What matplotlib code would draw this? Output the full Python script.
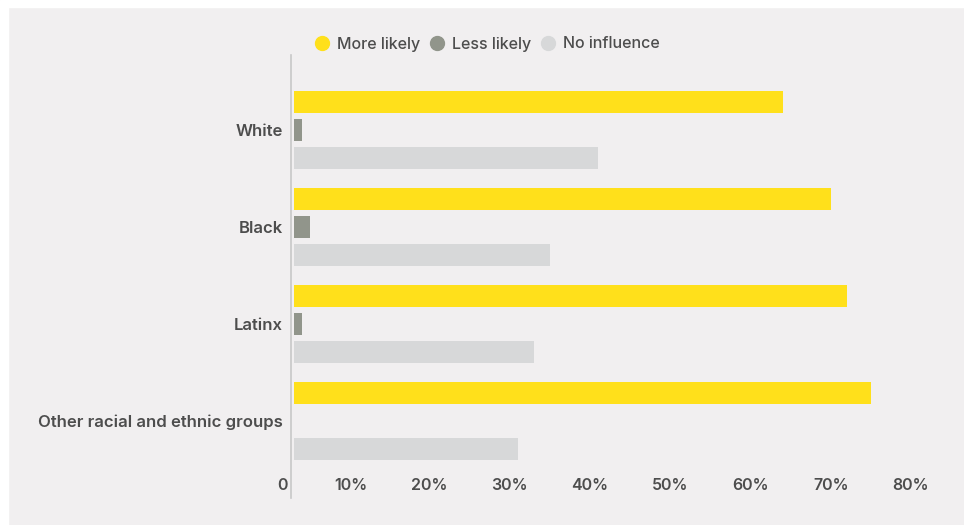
import matplotlib.pyplot as plt
import matplotlib.transforms as mtransforms
from matplotlib.lines import Line2D
from matplotlib.patches import Rectangle
import numpy as np

categories = ['White', 'Black', 'Latinx', 'Other racial and ethnic groups']
more_likely = [61, 67, 69, 72]
less_likely = [1, 2, 1, 0]
no_influence = [38, 32, 30, 28]
series_names = ['More likely', 'Less likely', 'No influence']
tick_values = [0, 10, 20, 30, 40, 50, 60, 70, 80]
tick_labels = ['0', '10%', '20%', '30%', '40%', '50%', '60%', '70%', '80%']

colors = ['#FFE01B', '#91958B', '#D7D8D9']
bg = '#F1EFF0'
txt = '#4D4D4D'

plt.rcParams['font.family'] = ['Inter', 'DejaVu Sans']

W, H = 964, 525
fig = plt.figure(figsize=(W / 100, H / 100), dpi=100, facecolor=bg)
# white border strips on top and left
fig.add_artist(Rectangle((0, 1 - 7 / H), 1, 7 / H, transform=fig.transFigure, color='white', zorder=-1))
fig.add_artist(Rectangle((0, 0), 8 / W, 1, transform=fig.transFigure, color='white', zorder=-1))

left, right = 293.5, 935
top, bottom = 55, 498
ax = fig.add_axes([left / W, 1 - bottom / H, (right - left) / W, (bottom - top) / H])
ax.set_facecolor(bg)

y = np.arange(len(categories))
step = 28 / 97
h = 22 / 97
for i, vals in enumerate([more_likely, less_likely, no_influence]):
    ax.barh(y + (i - 1) * step, vals, height=h, color=colors[i], label=series_names[i])

ax.set_xlim(0, 80)
ax.set_ylim(3 + 77 / 97, -75 / 97)

for s in ['top', 'right', 'bottom']:
    ax.spines[s].set_visible(False)
ax.spines['left'].set_color('#C8C8C8')
ax.spines['left'].set_linewidth(1.2)
ax.spines['left'].set_position(('outward', 1.5))

ax.set_xticks([])
ax.set_yticks(y)
ax.set_yticklabels(categories, fontsize=12, fontweight='semibold', color=txt)
ax.tick_params(axis='y', length=0, pad=6)

# x tick labels sit inside the axes, right aligned just left of each tick
trans = mtransforms.blended_transform_factory(ax.transData, ax.transAxes)
off = mtransforms.offset_copy(trans, fig=fig, x=-6, y=0, units='dots')
for v, lab in zip(tick_values, tick_labels):
    ax.text(v, 13 / (bottom - top), lab, transform=off, ha='right', va='center',
            fontsize=11.5, fontweight='semibold', color=txt)

handles = [Line2D([], [], marker='o', linestyle='none', markersize=10,
                  markerfacecolor=c, markeredgecolor=c) for c in colors]
fig.legend(handles, series_names, loc='center', bbox_to_anchor=(487 / W, 1 - 44 / H),
           ncol=3, frameon=False, handletextpad=0.45, columnspacing=0.55,
           handlelength=1.0, labelcolor=txt,
           prop={'family': ['Inter', 'DejaVu Sans'], 'size': 11.5, 'weight': 'medium'})

fig.savefig('out.png', dpi=100, facecolor=bg)
